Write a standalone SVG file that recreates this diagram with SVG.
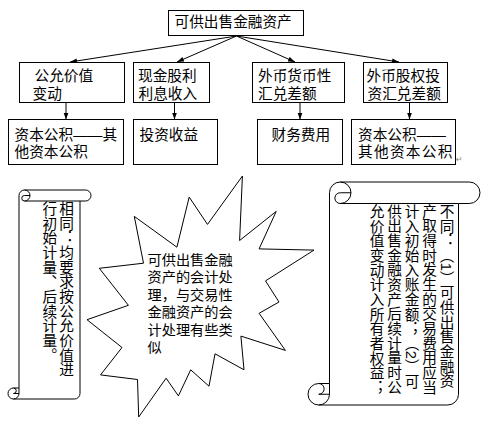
<svg xmlns="http://www.w3.org/2000/svg" width="485" height="423" viewBox="0 0 485 423">
<style>
  .box{fill:#fff;stroke:#000;stroke-width:1}
  .t{font-family:"Liberation Sans","Noto Sans CJK SC",sans-serif;font-size:14.67px;fill:#000}
  .ts{font-family:"Liberation Sans","Noto Sans CJK SC",sans-serif;font-size:14.2px;fill:#000}
  .v{font-family:"Liberation Sans","Noto Sans CJK SC",sans-serif;font-size:14.67px;fill:#000;writing-mode:vertical-rl}
  .conn{stroke:#000;stroke-width:1;fill:none}
  .shape{fill:#fff;stroke:#000;stroke-width:1}
  .curl{fill:none;stroke:#000;stroke-width:1}
</style>
<defs>
  <marker id="ah" markerUnits="userSpaceOnUse" markerWidth="8" markerHeight="6" refX="7" refY="2.5" orient="auto">
    <path d="M0,0 L7,2.5 L0,5 Z" fill="#000"/>
  </marker>
</defs>
<rect width="485" height="423" fill="#fff"/>

<g id="connectors">
  <line class="conn" x1="236.5" y1="36" x2="70" y2="62" marker-end="url(#ah)"/>
  <line class="conn" x1="236.5" y1="36" x2="177" y2="62" marker-end="url(#ah)"/>
  <line class="conn" x1="236.5" y1="36" x2="295" y2="62" marker-end="url(#ah)"/>
  <line class="conn" x1="236.5" y1="36" x2="399" y2="62" marker-end="url(#ah)"/>
  <line class="conn" x1="66" y1="102.5" x2="66" y2="119.5" marker-end="url(#ah)"/>
  <line class="conn" x1="174.5" y1="102.5" x2="174.5" y2="119.5" stroke="#555" stroke-width="1.5" marker-end="url(#ah)"/>
  <line class="conn" x1="300" y1="102.5" x2="300" y2="119.5" marker-end="url(#ah)"/>
  <line class="conn" x1="409.5" y1="102.5" x2="409.5" y2="119.5" marker-end="url(#ah)"/>
</g>

<g id="top">
  <rect class="box" x="168.5" y="10.5" width="135" height="25"/>
  <text class="t" x="174.5" y="27.3">可供出售金融资产</text>
</g>

<g id="fair-value-change">
  <rect class="box" x="19.5" y="62.5" width="105" height="40"/>
  <text class="t"><tspan x="34.5" y="81.3">公允价值</tspan><tspan x="32.5" y="98.6">变动</tspan></text>
</g>
<g id="cash-dividend">
  <rect class="box" x="133.5" y="62.5" width="76" height="40"/>
  <text class="t"><tspan x="138" y="81.3">现金股利</tspan><tspan x="138.5" y="98.6">利息收入</tspan></text>
</g>
<g id="fx-monetary">
  <rect class="box" x="252.5" y="62.5" width="92" height="40"/>
  <text class="t"><tspan x="258" y="81.3">外币货币性</tspan><tspan x="258" y="98.6">汇兑差额</tspan></text>
</g>
<g id="fx-equity">
  <rect class="box" x="363.5" y="62.5" width="84" height="40"/>
  <text class="t"><tspan x="366.5" y="81.3">外币股权投</tspan><tspan x="367.5" y="98.6">资汇兑差额</tspan></text>
</g>

<g id="capital-reserve-1">
  <rect class="box" x="8.5" y="119.5" width="115" height="45"/>
  <text class="t"><tspan x="14.5" y="140.3">资本公积——其</tspan><tspan x="14.5" y="156.8">他资本公积</tspan></text>
</g>
<g id="investment-income">
  <rect class="box" x="133.5" y="119.5" width="84" height="45"/>
  <text class="t" x="139.5" y="140.3">投资收益</text>
</g>
<g id="finance-cost">
  <rect class="box" x="257.5" y="119.5" width="85" height="45"/>
  <text class="t" x="271.5" y="140.3">财务费用</text>
</g>
<g id="capital-reserve-2">
  <rect class="box" x="351.5" y="119.5" width="104" height="45"/>
  <text class="t"><tspan x="358" y="140.3">资本公积——</tspan><tspan x="358" y="156.8" letter-spacing="1.3">其他资本公积</tspan></text>
</g>
<text x="456" y="162" font-family="DejaVu Sans, sans-serif" font-size="8" fill="#888">↵</text>

<g id="same-scroll">
  <path class="shape" d="M19,388 L19,195.5 A5.5 5.5 0 0 1 24.5,190 L85.5,190 A5.5 5.5 0 0 1 85.5,201 L80,201 L80,393.5 A5.5 5.5 0 0 1 74.5,399 L13.5,399 A5.5 5.5 0 0 1 13.5,388 Z"/>
  <path class="curl" d="M24.5,190 A5.5 5.5 0 0 1 24.5,201 A2.75 2.75 0 0 1 24.5,195.5 L30,195.5 M80,201 L24.5,201 M13.5,388 A2.75 2.75 0 0 1 13.5,393.5 L19,393.5 M13.5,399 A5.5 5.5 0 0 0 19,393.5 L19,388"/>
  <text class="v"><tspan x="65" y="201">相同：均要求按公允价值进</tspan><tspan x="48.3" y="201">行初始计量、后续计量。</tspan></text>
</g>

<g id="burst">
  <polygon class="shape" points="207.5,224.4 242.4,176 239.6,240.5 276.2,211.4 259.1,248.9 314,250.1 265.5,280.9 279,302 259.1,313.3 285.4,350.4 240.9,336.1 244,369.8 215,353.8 209,386.2 190.7,369.8 178.4,395.9 166.1,378.2 138.7,417 137.5,379.5 100.5,374.9 122,347.5 87,319.7 128.4,305.3 99.3,268.3 143.5,263.2 134.3,216.4 176.9,247.2 189.2,197.1"/>
  <text class="ts"><tspan x="147.5" y="264.9">可供出售金融</tspan><tspan x="147.5" y="282.3">资产的会计处</tspan><tspan x="147.5" y="299.8">理，与交易性</tspan><tspan x="147.5" y="317.3">金融资产的会</tspan><tspan x="147.5" y="334.8">计处理有些类</tspan><tspan x="147.5" y="352.3">似</tspan></text>
</g>

<g id="diff-scroll">
  <path class="shape" d="M329.5,383.5 L329.5,192.75 A10.75 10.75 0 0 1 340.25,182 L469.25,182 A10.75 10.75 0 0 1 469.25,203.5 L458.5,203.5 L458.5,394.25 A10.75 10.75 0 0 1 447.75,405 L318.75,405 A10.75 10.75 0 0 1 318.75,383.5 Z"/>
  <path class="curl" d="M340.25,182 A10.75 10.75 0 0 1 340.25,203.5 A5.375 5.375 0 0 1 340.25,192.75 L351,192.75 M458.5,203.5 L340.25,203.5 M318.75,383.5 A5.375 5.375 0 0 1 318.75,394.25 L329.5,394.25 M318.75,405 A10.75 10.75 0 0 0 329.5,394.25 L329.5,383.5"/>
  <text class="v"><tspan x="445.5" y="204">不同：（1）可供出售金融资</tspan><tspan x="428" y="204">产取得时发生的交易费用应当</tspan><tspan x="410.5" y="204">计入初始入账金额；（2）可</tspan><tspan x="393" y="204">供出售金融资产后续计量时公</tspan><tspan x="375.5" y="204">允价值变动计入所有者权益；</tspan></text>
</g>
</svg>
